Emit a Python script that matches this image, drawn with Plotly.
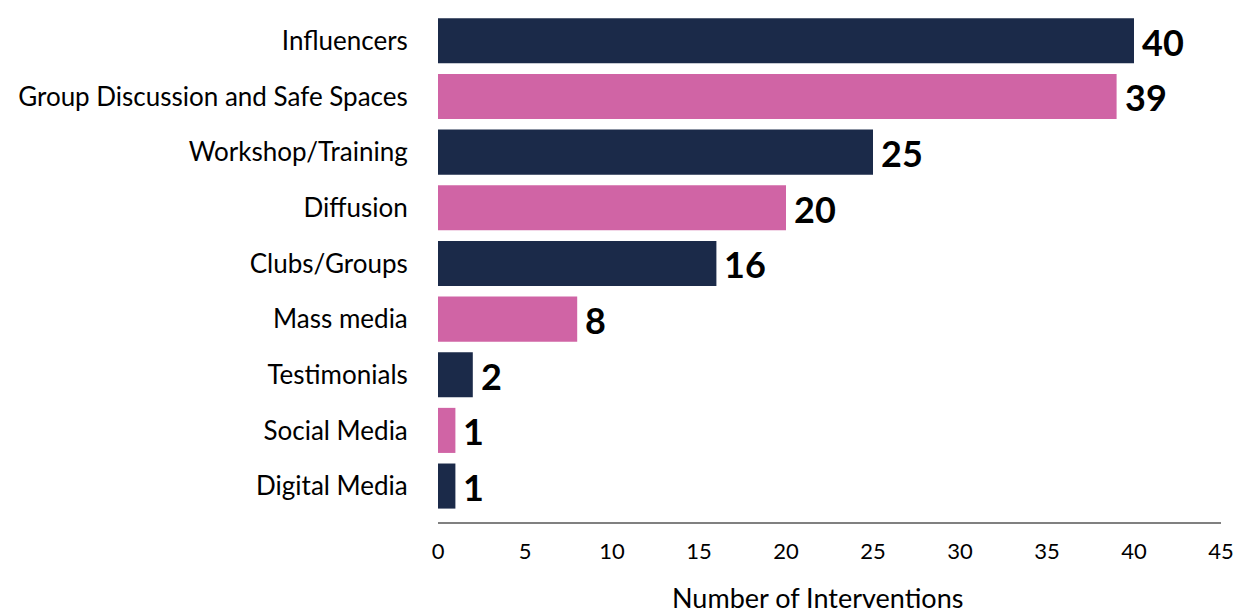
import plotly.graph_objects as go

categories = ["Influencers", "Group Discussion and Safe Spaces", "Workshop/Training",
              "Diffusion", "Clubs/Groups", "Mass media", "Testimonials",
              "Social Media", "Digital Media"]
values = [40, 39, 25, 20, 16, 8, 2, 1, 1]
x_ticks = [0, 5, 10, 15, 20, 25, 30, 35, 40, 45]
x_title = "Number of Interventions"

NAVY = "#1B2A49"
PINK = "#D064A5"
colors = [NAVY if i % 2 == 0 else PINK for i in range(len(categories))]

fig = go.Figure()
fig.add_trace(go.Bar(
    y=categories, x=values, orientation="h",
    marker=dict(color=colors, line=dict(width=0)),
    hoverinfo="skip",
))

for c, v in zip(categories, values):
    fig.add_annotation(x=v, y=c, text="<b>%d</b>" % v, showarrow=False,
                       xanchor="left", yanchor="middle", xshift=6, yshift=-1,
                       font=dict(family="Lato", size=36, color="#000000"))

# axis title placed as an annotation below the tick labels
fig.add_annotation(x=0.4847, y=0, xref="paper", yref="paper", text=x_title,
                   showarrow=False, xanchor="center", yanchor="top", yshift=-57,
                   font=dict(family="Lato", size=27, color="#000000"))

fig.update_layout(
    width=1234, height=613,
    margin=dict(l=438, r=13, t=12.6, b=91, autoexpand=False),
    paper_bgcolor="white", plot_bgcolor="white",
    bargap=0.19,
    showlegend=False,
    font=dict(family="Lato", size=24, color="#000000"),
)
fig.update_xaxes(
    range=[0, 45], tickvals=x_ticks, ticktext=[str(t) for t in x_ticks],
    automargin=False,
    showgrid=False, zeroline=False,
    showline=True, linecolor="#808080", linewidth=2,
    ticks="outside", ticklen=9, tickcolor="rgba(0,0,0,0)",
    ticklabeloverflow="allow",
    tickfont=dict(family="Lato", size=22),
)
fig.update_yaxes(
    categoryorder="array", categoryarray=categories,
    range=[8.646, -0.5],
    automargin=False,
    showgrid=False, zeroline=False, showline=False,
    ticks="outside", ticklen=24, tickcolor="rgba(0,0,0,0)",
    tickfont=dict(family="Lato", size=26),
)

fig.write_html("out.html")
